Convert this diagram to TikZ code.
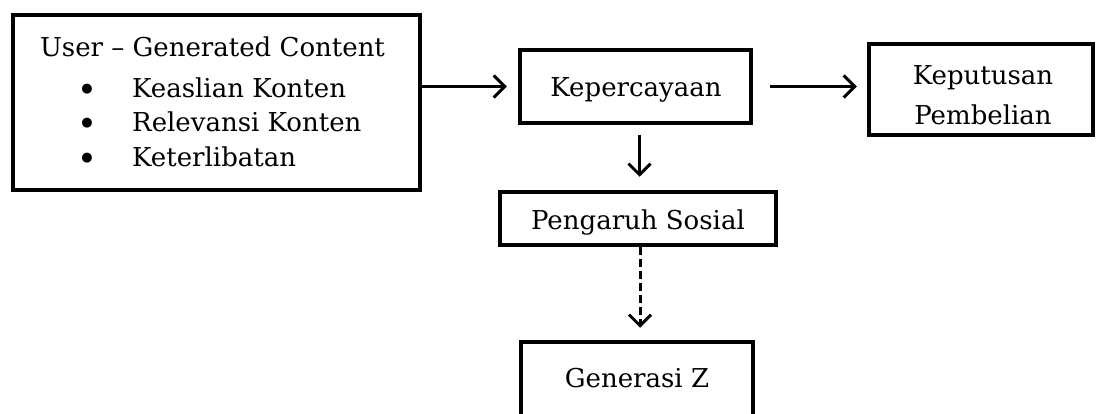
\documentclass[tikz,border=0pt]{standalone}
\usepackage{fontspec}
\setmainfont{DejaVu Serif}
\usetikzlibrary{arrows.meta}
\begin{document}
\begin{tikzpicture}[x=1pt,y=-1pt,
  box/.style={draw=black,line width=4.5pt,rectangle,inner sep=0pt,fill=white},
  txt/.style={inner sep=0pt,font=\fontsize{26}{40}\selectfont},
  dot/.style={inner sep=0pt,font=\fontsize{13}{13}\selectfont},
  conn/.style={line width=3pt,-{Straight Barb[length=11pt,width=22pt,line width=3pt]}}]
\useasboundingbox (0,0) rectangle (1097,413);
\fill[white] (0,0) rectangle (1097,413);
% boxes
\node[box,minimum width=407pt,minimum height=175pt] (ugc) at (216.5,102.5) {};
\node[box,minimum width=231pt,minimum height=73pt] (kep) at (635.5,86.5) {};
\node[box,minimum width=224pt,minimum height=91pt] (kpb) at (981,89.5) {};
\node[box,minimum width=276pt,minimum height=53pt] (psos) at (638,218.5) {};
\node[box,minimum width=232pt,minimum height=80pt] (genz) at (637,382) {};
% texts
\node[txt] (t1) at (212.5,47) {User – Generated Content};
\node[dot] (b1) at (87,89) {●};
\node[dot] (b2) at (87,123) {●};
\node[dot] (b3) at (87,158) {●};
\node[txt,anchor=west] (i1) at (132,88) {Keaslian Konten};
\node[txt,anchor=west] (i2) at (132,122) {Relevansi Konten};
\node[txt,anchor=west] (i3) at (132,157) {Keterlibatan};
\node[txt] (tk) at (636,90) {Kepercayaan};
\node[txt,align=center] (tp) at (983,95) {Keputusan\\Pembelian};
\node[txt] (ts) at (638,223) {Pengaruh Sosial};
\node[txt] (tg) at (637,378) {Generasi Z};
% connectors
\draw[conn,shorten >=11pt] (ugc.east |- kep.center) -- (kep.west);
\draw[conn,shorten <=17pt,shorten >=10pt] (kep.east) -- (kpb.west |- kep.east);
\draw[conn,shorten <=10pt,shorten >=13pt] ([xshift=4pt]kep.south) -- ([xshift=4pt]kep.south |- psos.north);
\draw[conn,dash pattern=on 8pt off 4pt,shorten >=12pt] ([xshift=2pt]psos.south) -- ([xshift=2pt]psos.south |- genz.north);
\end{tikzpicture}
\end{document}
